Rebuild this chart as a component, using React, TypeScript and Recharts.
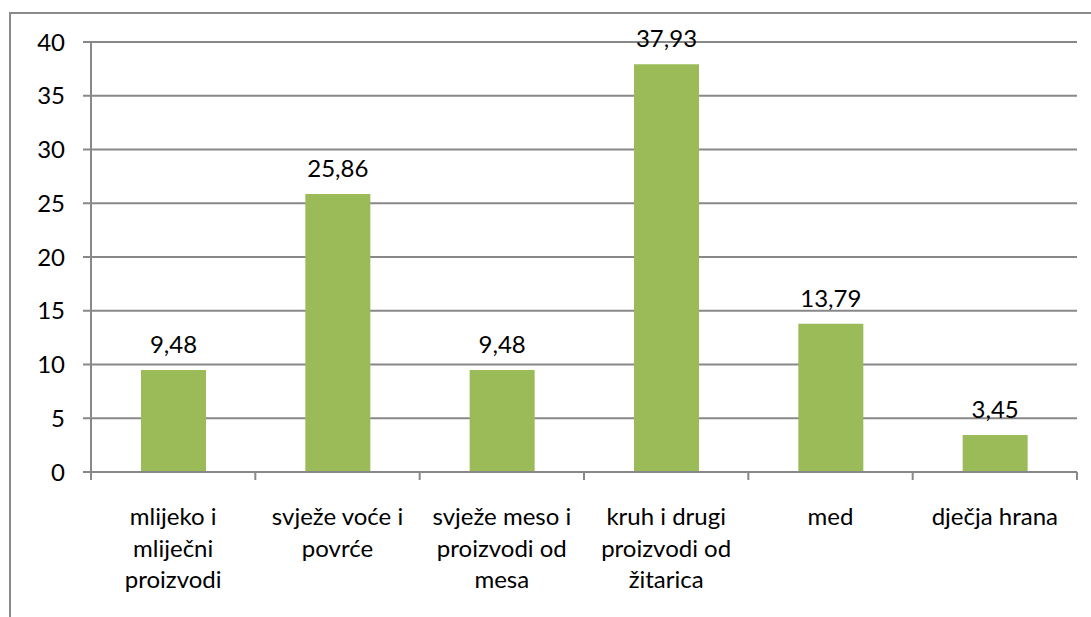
import { Bar, BarChart, CartesianGrid, LabelList, XAxis, YAxis } from "recharts";

const categories = [
  "mlijeko i\nmliječni\nproizvodi",
  "svježe voće i\npovrće",
  "svježe meso i\nproizvodi od\nmesa",
  "kruh i drugi\nproizvodi od\nžitarica",
  "med",
  "dječja hrana",
];
const values = [9.48, 25.86, 9.48, 37.93, 13.79, 3.45];
const yTicks = [0, 5, 10, 15, 20, 25, 30, 35, 40];

const data = categories.map((c, i) => ({ name: c, value: values[i] }));

const W = 1091;
const H = 617;
const margin = { top: 42, right: 14, left: 31, bottom: 45 };
const Y_AXIS_W = 60;
const X_AXIS_H = 100;
const PLOT_W = W - margin.left - margin.right - Y_AXIS_W;
const BAND = PLOT_W / categories.length;
const AXIS_Y = H - margin.bottom - X_AXIS_H;

const GRID = "#888888";
const FONT = "Lato, 'Open Sans', sans-serif";
const FS = 24;

function CategoryTick(props: any) {
  const { x, y, payload, index } = props;
  const half = payload?.offset ? payload.offset : BAND / 2;
  const lines = String(payload.value).split("\n");
  const last = index === categories.length - 1;
  return (
    <g>
      <line x1={x - half} x2={x - half} y1={AXIS_Y} y2={AXIS_Y + 8} stroke={GRID} strokeWidth={2} />
      {last && (
        <line x1={x + half} x2={x + half} y1={AXIS_Y} y2={AXIS_Y + 8} stroke={GRID} strokeWidth={2} />
      )}
      <text x={x} y={y + 45} textAnchor="middle" fill="#000" fontSize={FS} fontFamily={FONT}>
        {lines.map((l, i) => (
          <tspan key={i} x={x} dy={i === 0 ? 0 : 31.5}>
            {l}
          </tspan>
        ))}
      </text>
    </g>
  );
}

export default function App() {
  return (
    <div style={{ position: "fixed", left: 0, top: 0, width: W, height: H, overflow: "hidden", background: "#fff" }}>
      <div
        style={{
          position: "absolute",
          left: 9,
          top: 12,
          width: 1200,
          height: 800,
          border: "2px solid #8a8a8a",
        }}
      />
      <div style={{ position: "absolute", left: 0, top: 0 }}>
        <BarChart width={W} height={H} data={data} margin={margin}>
          <CartesianGrid vertical={false} stroke={GRID} strokeWidth={2} />
          <XAxis
            dataKey="name"
            height={X_AXIS_H}
            interval={0}
            tickLine={false}
            axisLine={{ stroke: GRID, strokeWidth: 2 }}
            tick={<CategoryTick />}
          />
          <YAxis
            width={Y_AXIS_W}
            domain={[0, 40]}
            ticks={yTicks}
            interval={0}
            tickSize={8}
            tickMargin={18}
            axisLine={{ stroke: GRID, strokeWidth: 2 }}
            tickLine={{ stroke: GRID, strokeWidth: 2 }}
            tick={{ fill: "#000", fontSize: FS, fontFamily: FONT }}
          />
          <Bar dataKey="value" fill="#9BBB59" barSize={65} isAnimationActive={false}>
            <LabelList
              dataKey="value"
              position="top"
              offset={17}
              fill="#000"
              fontSize={FS}
              fontFamily={FONT}
              formatter={(v: any) => Number(v).toFixed(2).replace(".", ",")}
            />
          </Bar>
        </BarChart>
      </div>
    </div>
  );
}
